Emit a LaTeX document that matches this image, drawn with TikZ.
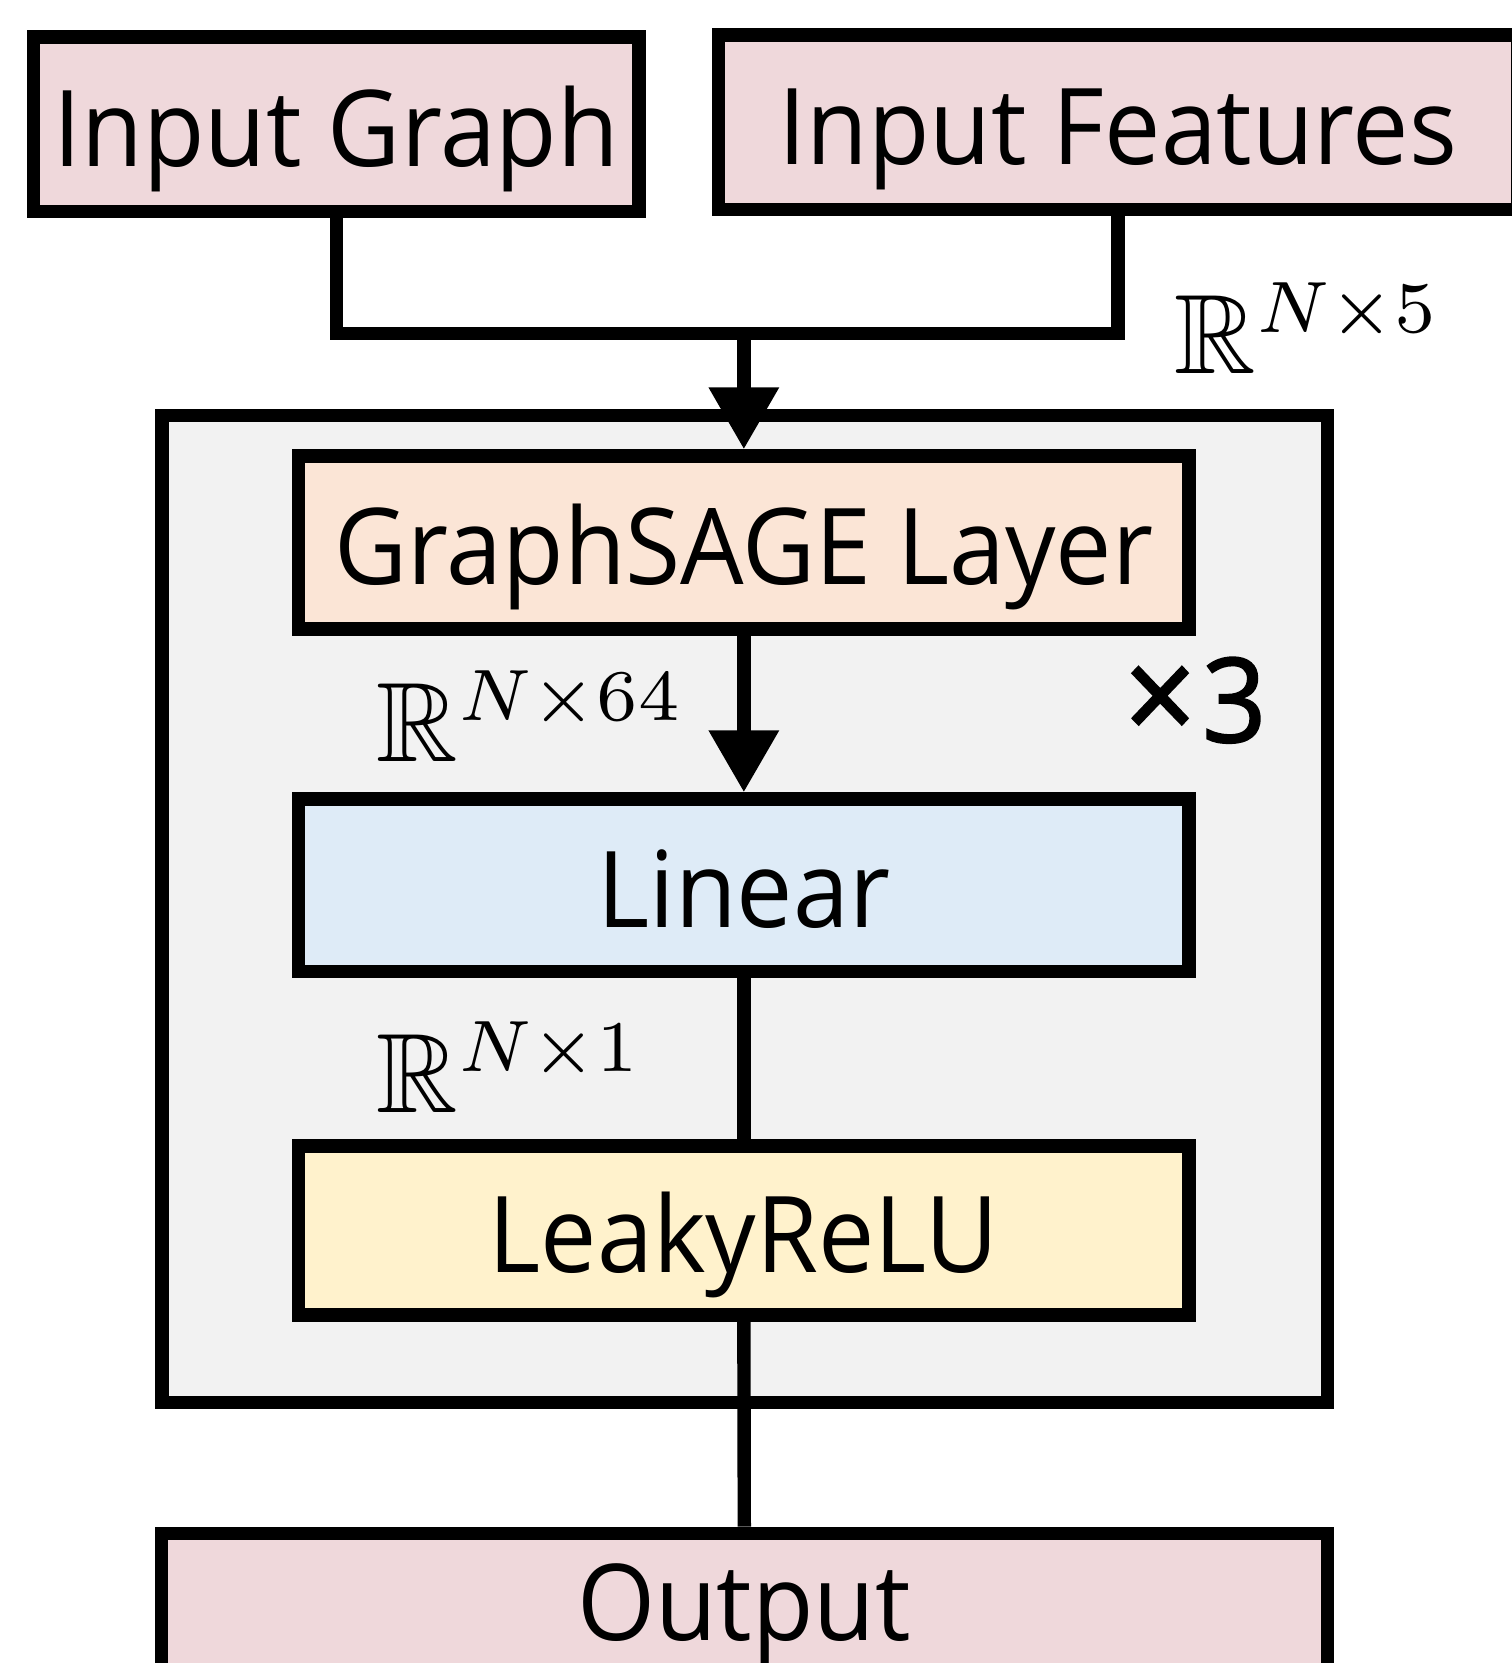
\documentclass[tikz,border=0pt]{standalone}
\usepackage[no-math]{fontspec}
\setmainfont{Open Sans}[FakeStretch=0.947]
\newfontfamily\semifont{Open Sans}[FakeStretch=0.96,FakeBold=1.6]
\usepackage{amssymb}
\usepackage{graphicx}
\usetikzlibrary{arrows.meta}
\definecolor{pinkfill}{RGB}{239,216,219}
\definecolor{peachfill}{RGB}{251,229,214}
\definecolor{bluefill}{RGB}{222,235,247}
\definecolor{yellowfill}{RGB}{255,242,204}
\definecolor{grayfill}{RGB}{242,242,242}
\newcommand{\bigmath}[2]{\scalebox{11.3}{$#1^{\scalebox{0.92}{$\scriptstyle #2$}}$}}
\tikzset{
  boxstyle/.style={draw=black, line width=13.4pt, inner sep=0pt,
    text height=84pt, text depth=0pt,
    font=\fontsize{106}{120}\selectfont},
  conn/.style={draw=black, line width=13.4pt},
  arr/.style={conn, -{Triangle[width=67pt,length=62pt]}},
  mathlab/.style={inner sep=0pt, anchor=base west},
}
\begin{document}
\begin{tikzpicture}[x=1pt,y=-1pt]
\useasboundingbox (0,0) rectangle (1512,1663);
\clip (0,0) rectangle (1512,1663);
% outer repeated block
\node[boxstyle, fill=grayfill, minimum width=1165.3pt, minimum height=987.2pt] (rep) at (744.65,908.9) {};
% inputs
\node[boxstyle, fill=pinkfill, minimum width=605.3pt, minimum height=174.7pt] (ig) at (336.3,124.3) {Input Graph};
\node[boxstyle, fill=pinkfill, minimum width=799.2pt, minimum height=174.3pt] (if) at (1117.9,122.2) {Input Features};
% layers
\node[boxstyle, fill=peachfill, minimum width=890.3pt, minimum height=173pt] (gs) at (743.85,542.5) {GraphSAGE Layer};
\node[boxstyle, fill=bluefill, minimum width=890.3pt, minimum height=172.5pt] (lin) at (743.85,885.25) {Linear};
\node[boxstyle, fill=yellowfill, minimum width=890.3pt, minimum height=169pt] (lr) at (743.85,1230.5) {LeakyReLU};
% output
\node[boxstyle, fill=pinkfill, minimum width=1166pt, minimum height=180pt] (out) at (744.3,1623.3) {};
\node[inner sep=0pt, anchor=base, font=\fontsize{106}{120}\selectfont] (outtxt) at (744,1640) {Output};
% connectors
\coordinate (jn) at (743.85,333.7);
\draw[conn] (ig.south) |- (jn) -| (if.south);
\draw[arr] (jn) -- (gs.north);
\draw[arr] (gs.south) -- (lin.north);
\draw[conn] (lin.south) -- (lr.north);
\draw[conn] (lr.south) -- (out.north);
% labels
\node[mathlab] (d5) at (1174.5,373.3) {\bigmath{\mathbb{R}}{N\times 5}};
\node[mathlab] (d64) at (376.5,761.3) {\bigmath{\mathbb{R}}{N\times 64}};
\node[mathlab] (d1) at (376.5,1112.8) {\bigmath{\mathbb{R}}{N\times 1}};
\node[inner sep=0pt, anchor=base west, font=\fontsize{117}{130}\semifont] (times3) at (1124,742) {\scalebox{1.12}{×}\kern6pt 3};
\end{tikzpicture}
\end{document}
